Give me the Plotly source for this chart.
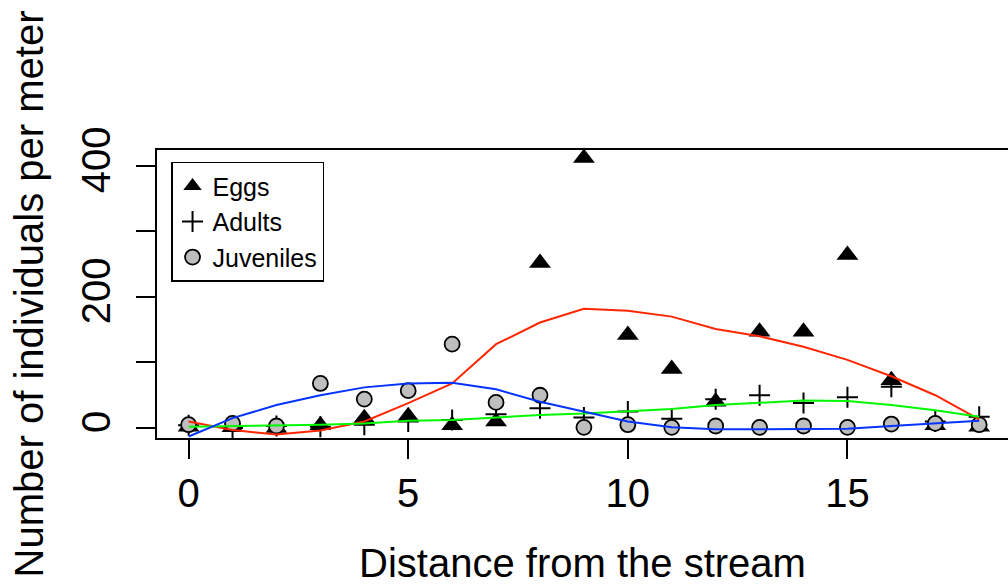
import plotly.graph_objects as go

distance = list(range(19))
eggs = [2, 1, 0, 4, 15, 18, 4, 10, 252, 412, 142, 90, 40, 147, 147, 264, 73, 4, 2]
adults = [4, 0, 3, 2, 5, 10, 12, 21, 30, 16, 25, 14, 44, 50, 38, 47, 63, 10, 17]
juveniles = [5, 7, 3, 68, 44, 57, 128, 39, 50, 1, 5, 1, 3, 1, 3, 1, 6, 7, 5]

eggs_fit = [10, -3, -10, -4, 10, 38, 68, 128, 161, 182, 179, 170, 151, 140, 124, 104, 79, 50, 13]
adults_fit = [2, 3, 3, 5, 7, 11, 12, 16, 20, 22, 25, 29, 35, 39, 42, 41, 35, 27, 17]
juveniles_fit = [-13, 15, 35, 50, 62, 68, 69, 59, 40, 25, 10, 1, -2, -2, -2, -1, 3, 7, 11]

x_ticks = [0, 5, 10, 15]
y_ticks = [0, 100, 200, 300, 400]
y_ticktext = ["0", "", "200", "", "400"]

FONT = "Liberation Sans, Helvetica, Arial, sans-serif"

fig = go.Figure()
fig.add_trace(go.Scatter(x=distance, y=eggs, mode="markers", name="Eggs",
                         marker=dict(symbol="triangle-up", size=19, color="black",
                                     line=dict(width=0))))
fig.add_trace(go.Scatter(x=distance, y=adults, mode="markers", name="Adults",
                         marker=dict(symbol="cross-thin", size=15, color="black",
                                     line=dict(width=2, color="black"))))
fig.add_trace(go.Scatter(x=distance, y=juveniles, mode="markers", name="Juveniles",
                         marker=dict(symbol="circle", size=15, color="#BEBEBE",
                                     line=dict(width=1.8, color="black"))))
fig.add_trace(go.Scatter(x=distance, y=eggs_fit, mode="lines", showlegend=False,
                         line=dict(color="#FF2600", width=2)))
fig.add_trace(go.Scatter(x=distance, y=adults_fit, mode="lines", showlegend=False,
                         line=dict(color="#00F900", width=2)))
fig.add_trace(go.Scatter(x=distance, y=juveniles_fit, mode="lines", showlegend=False,
                         line=dict(color="#0433FF", width=2)))

fig.update_layout(
    width=1008, height=585,
    margin=dict(l=157, r=0, t=150, b=147),
    paper_bgcolor="white", plot_bgcolor="white",
    font=dict(family=FONT, size=40, color="black"),
    legend=dict(x=0.0165, y=0.959, xanchor="left", yanchor="top",
                bgcolor="white", bordercolor="black", borderwidth=1.5,
                font=dict(size=25, family=FONT), tracegroupgap=0,
                itemwidth=30),
    xaxis=dict(range=[-0.72, 18.656], tickvals=x_ticks, ticks="outside", ticklen=19,
               tickwidth=1.5, tickcolor="black", showgrid=False, zeroline=False,
               showline=True, linecolor="black", linewidth=1.5, mirror=True,
               tickfont=dict(size=40), ticklabelstandoff=0,
               title=dict(text="Distance from the stream", font=dict(size=40), standoff=35)),
    yaxis=dict(range=[-15.3, 424.4], tickvals=y_ticks, ticktext=y_ticktext,
               ticks="outside", ticklen=19, tickwidth=1.5, tickcolor="black",
               showgrid=False, zeroline=False, showline=True, linecolor="black",
               linewidth=1.5, mirror=False, tickangle=-90, tickfont=dict(size=40),
               ticklabelstandoff=10,
               title=dict(text="Number of individuals per meter", font=dict(size=40),
                          standoff=18)),
)

fig.write_html("out.html")
